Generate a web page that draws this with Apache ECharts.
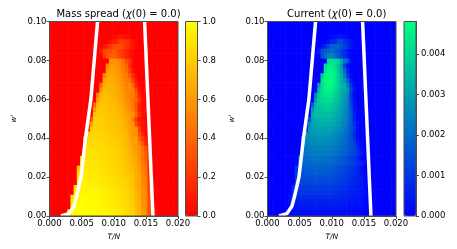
<!DOCTYPE html>
<html><head><meta charset="utf-8">
<style>html,body{margin:0;padding:0;background:#fff}#c{width:457px;height:249px;filter:blur(0.55px)}</style>
<script src="https://cdn.jsdelivr.net/npm/echarts@6/dist/echarts.min.js"></script>
</head><body><div id="c"></div>
<script>
// cell spacing of the parameter scan
const xStep = 0.0005, yStep = 0.0025;
// mass spread per scan row, percent: [first column, values]
const massRows = [
[4,[70,96,100,100,100,100,100,100,100,99,99,98,98,97,96,95,94,92,90,88,86,85,84,74,72,60,57,36,16,8]],
[6,[90,100,100,100,100,100,100,99,99,98,98,97,96,95,94,92,91,89,86,84,83,74,71,60,56,34,15,6]],
[7,[95,100,100,100,100,99,99,98,98,97,96,95,94,93,91,90,88,86,83,82,73,70,58,55,32,12]],
[7,[90,98,99,100,99,98,98,98,97,96,95,94,93,92,90,89,87,85,82,81,72,70,58,54,30,10]],
[7,[88,97,98,98,98,98,97,97,96,95,94,93,92,91,89,88,86,84,81,80,72,68,57,52,30,8]],
[8,[92,96,97,97,96,96,96,95,94,94,92,91,90,88,87,85,83,80,79,70,68,56,52,28,8]],
[8,[88,95,96,96,96,95,95,94,93,93,91,90,89,87,86,84,82,79,78,70,66,56,50,26,6]],
[9,[93,95,95,94,94,94,93,92,92,90,89,88,86,85,83,81,78,76,69,66,54,50,24,6]],
[9,[90,94,94,93,93,93,92,91,90,89,88,87,85,84,82,80,77,75,68,65,54,48,22,4]],
[9,[86,93,93,92,92,92,91,90,89,88,87,86,84,83,81,79,76,74,68,64,52,46,20,3]],
[9,[78,92,92,91,91,90,90,89,88,87,86,85,83,82,80,78,75,72,66,62,50,44,18]],
[10,[90,91,90,90,89,89,88,87,86,85,84,82,81,79,77,74,70,65,60,48,40,16]],
[10,[84,90,89,89,88,88,87,86,85,84,83,81,80,78,76,72,68,64,58,46,36,14]],
[11,[88,89,88,88,87,87,86,85,84,83,82,80,78,75,70,66,62,56,48,38,12]],
[11,[82,88,87,87,86,86,85,84,83,82,81,79,77,74,70,64,60,56,44,30,10]],
[11,[76,86,86,86,85,85,84,83,82,81,80,78,76,73,68,62,62,48,34,16,6]],
[11,[70,84,85,85,84,84,83,82,81,80,79,77,75,72,66,60,64,40,24,10]],
[12,[82,84,84,83,83,82,81,80,79,78,76,74,70,64,58,58,32,14,3]],
[13,[80,83,82,82,81,80,79,78,77,75,73,68,62,58,60,24,6,4]],
[13,[62,82,81,81,80,79,78,77,76,74,72,66,60,60,28,12,6,3]],
[13,[30,80,80,80,79,78,77,76,75,73,70,65,60,48,22,8,5]],
[14,[76,79,79,78,77,76,75,74,72,68,63,58,56,40,16,5,3]],
[14,[60,78,78,77,76,75,74,73,70,66,60,56,50,34,10,4,6,3]],
[14,[40,72,77,76,75,74,73,72,68,64,58,54,48,30,12,3]],
[15,[60,75,75,74,73,72,70,66,62,56,52,46,40,20,5]],
[15,[48,72,74,73,72,70,68,64,60,54,50,48,36,12,3]],
[16,[58,72,72,71,69,67,63,58,52,52,50,28,8]],
[16,[44,68,70,70,68,66,62,56,50,54,40,14,3]],
[17,[62,68,68,66,64,60,54,50,44,26,8]],
[17,[50,64,66,64,62,58,52,48,34,16,4]],
[18,[60,64,63,60,56,50,42,24,8]],
[18,[54,60,60,58,54,46,38,16,4]],
[19,[56,58,56,52,44,30,22,6]],
[17,[22,34,36,36,32,26,18,14,8,3]],
[16,[10,26,30,32,34,30,24,20,14,6,3]],
[17,[6,14,22,28,30,32,26,20,14,8,4]],
[19,[6,10,14,24,24,18,12,8,4]],
[20,[4,6,10,8,6,3]]
];
// current per scan row, units of 1e-5: [first column, values]
const currentRows = [
[4,[4,7,9,11,13,14,15,16,16,17,17,18,18,18,18,18,18,17,17,17,16,16,15,14,13,12,11,8,5,2]],
[6,[14,20,22,24,26,27,28,28,28,28,28,28,27,27,26,26,25,24,23,22,20,19,17,15,10,4,2]],
[7,[30,36,40,42,44,44,46,46,46,46,46,44,44,42,42,40,38,36,32,30,28,26,22,16,8,3]],
[7,[36,48,52,56,60,60,62,62,62,62,62,60,60,58,56,54,52,48,44,40,38,34,28,20,10,3]],
[7,[40,58,68,72,76,78,78,80,80,80,78,78,76,74,72,70,66,60,54,50,46,40,32,22,10,3]],
[8,[70,84,90,94,96,98,98,98,98,96,96,94,90,88,84,80,72,66,60,54,46,36,24,10,3]],
[8,[82,98,106,110,114,116,116,116,114,114,112,110,108,104,100,94,86,76,68,60,50,38,24,8]],
[9,[108,122,126,130,132,134,134,134,132,130,128,124,120,116,108,98,88,80,70,58,44,26,6]],
[9,[112,134,142,146,150,152,154,152,152,150,146,142,138,132,122,110,98,88,74,62,46,20,4]],
[9,[110,148,156,162,166,168,170,170,168,166,162,158,152,144,134,120,110,96,82,66,40,14,3]],
[9,[104,158,172,178,182,184,186,186,184,180,176,170,164,156,144,130,118,104,88,66,30,8]],
[10,[178,186,192,196,198,202,204,202,200,196,192,186,180,170,156,140,128,110,90,62,24,6]],
[10,[182,200,206,210,214,216,216,214,212,206,200,192,180,166,150,136,118,94,60,20]],
[11,[212,218,222,226,230,232,232,230,226,220,212,204,192,176,158,142,124,96,44,14]],
[11,[214,230,236,240,244,246,248,246,242,234,226,216,204,186,168,148,130,86,30,6]],
[11,[216,244,250,254,258,262,264,262,256,250,240,230,214,196,176,150,120,60,16]],
[11,[212,256,262,268,272,276,278,276,270,264,252,240,224,204,180,150,100,36]],
[12,[270,278,284,288,292,294,292,286,278,266,252,234,212,184,146,80,20]],
[13,[276,294,300,306,310,310,306,298,288,274,256,232,200,164,110,30]],
[13,[250,306,314,320,326,328,324,316,306,290,270,240,206,160,90,24]],
[13,[140,314,326,334,342,346,342,334,322,306,282,250,212,164,60,16]],
[14,[330,344,352,358,362,360,350,336,318,292,258,220,160,60,14]],
[14,[280,356,366,374,380,380,370,352,330,302,266,226,154,50,20]],
[14,[180,350,380,390,398,398,388,366,342,310,276,230,130,40,8]],
[15,[300,390,406,416,420,408,384,356,322,284,240,110,30]],
[15,[260,390,420,434,440,430,400,368,330,290,250,96,16]],
[16,[360,430,450,460,452,420,380,340,320,280,130,40]],
[16,[300,430,462,472,468,436,390,346,340,240,90,12]],
[17,[420,470,480,476,446,398,340,280,170,50]],
[17,[380,462,476,470,448,396,330,240,110,20]],
[18,[440,470,462,440,386,310,200,70]],
[18,[410,456,456,426,370,290,130,30]],
[19,[420,434,420,390,320,220,150,30]],
[17,[150,210,240,240,210,170,120,90,40,10]],
[16,[50,150,180,200,210,180,150,120,80,30,10]],
[17,[30,80,130,170,180,190,150,120,80,40,16]],
[19,[30,60,80,140,140,100,70,40,16]],
[20,[16,30,50,40,30,12]]
];
// white boundary curves
const leftCurveX = [0.0018,0.0030,0.0038,0.0042,0.0049,0.0056,0.00644,0.00696,0.00748];
const leftCurveY = [0,0.0012,0.005,0.01,0.02,0.04,0.06,0.08,0.1];
const rightCurveX = [0.0161,0.0148];
const rightCurveY = [0,0.1];
const massTicks = [0,0.2,0.4,0.6,0.8,1.0];
const currentTicks = [0,0.001,0.002,0.003,0.004];
const massMax = 1.0, currentMax = 0.00481;

const nCols = 41, nRows = 41;
function cells(rows, scale){
  const out = [];
  for (let r = 0; r < nRows; r++){
    const row = rows[r] || [0,[]];
    for (let c = 0; c < nCols; c++){
      const v = row[1][c - row[0]] || 0;
      out.push([c * xStep, r * yStep, v * scale]);
    }
  }
  return out;
}
function renderCell(params, api){
  const x = api.value(0), y = api.value(1);
  const p0 = api.coord([x - xStep/2, y + yStep/2]);
  const p1 = api.coord([x + xStep/2, y - yStep/2]);
  const rect = echarts.graphic.clipRectByRect(
    {x:p0[0], y:p0[1], width:p1[0]-p0[0]+0.6, height:p1[1]-p0[1]+0.6},
    {x:params.coordSys.x, y:params.coordSys.y, width:params.coordSys.width, height:params.coordSys.height});
  return rect && {type:'rect', shape:rect, style:{fill:api.visual('color')}};
}
const FONT = 'DejaVu Sans', SP = '#4d4d4d', INK = '#000', TICK = 8.5;
const plots = [{left:49.5,w:128.5,cb:185.5},{left:267.5,w:128.5,cb:404}];
const plotTop = 21.5, plotH = 194.5, cbW = 12;
const grids = [], xAxes = [], yAxes = [];
plots.forEach((p,i)=>{
  grids.push({left:p.left, top:plotTop, width:p.w, height:plotH, show:true, z:10, backgroundColor:'transparent', borderColor:SP, borderWidth:1});
  xAxes.push({type:'value', gridIndex:i, min:0, max:0.02, interval:0.005, splitLine:{show:false}, z:11,
    axisLine:{onZero:false,lineStyle:{color:SP}}, axisTick:{length:3,lineStyle:{color:SP}},
    axisLabel:{color:INK,fontFamily:FONT,fontSize:TICK,margin:3,formatter:v=>v.toFixed(3),hideOverlap:false,showMinLabel:true,showMaxLabel:true},
    name:'T/N', nameLocation:'middle', nameGap:15, nameTextStyle:{color:INK,fontFamily:FONT,fontSize:7.5,fontStyle:'italic'}});
  yAxes.push({type:'value', gridIndex:i, min:0, max:0.1, interval:0.02, splitLine:{show:false}, z:11,
    axisLine:{onZero:false,lineStyle:{color:SP}}, axisTick:{length:3,lineStyle:{color:SP}},
    axisLabel:{color:INK,fontFamily:FONT,fontSize:TICK,margin:3,formatter:v=>v.toFixed(2),showMinLabel:true,showMaxLabel:true},
    name:"w'", nameLocation:'middle', nameGap:31, nameRotate:90, nameTextStyle:{color:INK,fontFamily:FONT,fontSize:7.5,fontStyle:'italic'}});
});
plots.forEach((p,i)=>{
  const g = i + 2, isMass = i === 0, mx = isMass ? massMax : currentMax;
  const ticks = isMass ? massTicks : currentTicks;
  grids.push({left:p.cb, top:plotTop, width:cbW, height:plotH, show:true, z:10, backgroundColor:'transparent', borderColor:SP, borderWidth:1});
  xAxes.push({type:'value', gridIndex:g, min:0, max:1, show:false});
  yAxes.push({type:'value', gridIndex:g, position:'right', min:0, max:mx, splitLine:{show:false}, z:11,
    axisLine:{onZero:false,lineStyle:{color:SP}}, axisTick:{length:3,lineStyle:{color:SP},customValues:ticks},
    axisLabel:{color:INK,fontFamily:FONT,fontSize:TICK,margin:5,customValues:ticks, formatter:v=>isMass?v.toFixed(1):v.toFixed(3)}});
});
function boundary(i, xs, ys){
  return {type:'line', xAxisIndex:i, yAxisIndex:i, data:xs.map((x,k)=>[x,ys[k]]), showSymbol:false, symbol:'none',
    lineStyle:{color:'#fff',width:3.5}, z:5, silent:true, animation:false, clip:true};
}
function richTitle(a, centre){
  return {text:'{t|'+a+' (}{i|χ}{t|(0) = 0.0)}', left:centre, top:4, textAlign:'center',
    textStyle:{fontWeight:'normal',rich:{t:{fontFamily:FONT,fontSize:10,fontWeight:'normal',color:INK},i:{fontFamily:FONT,fontSize:10,fontWeight:'normal',fontStyle:'italic',color:INK}}}};
}
const chart = echarts.init(document.getElementById('c'));
chart.setOption({
  animation:false, backgroundColor:'#fff',
  title:[richTitle('Mass spread',113.5), richTitle('Current',331.7)],
  grid:grids, xAxis:xAxes, yAxis:yAxes,
  visualMap:[
    {type:'continuous', seriesIndex:0, dimension:2, min:0, max:massMax, left:plots[0].cb, top:plotTop, itemWidth:cbW, itemHeight:plotH, padding:0, calculable:false, showLabel:false, text:null, z:4,
      inRange:{color:['#ff0000','#ffff00']}},
    {type:'continuous', seriesIndex:2, dimension:2, min:0, max:currentMax, left:plots[1].cb, top:plotTop, itemWidth:cbW, itemHeight:plotH, padding:0, calculable:false, showLabel:false, text:null, z:4,
      inRange:{color:['#0000ff','#00ff80']}}
  ],
  series:[
    {type:'custom', xAxisIndex:0, yAxisIndex:0, data:cells(massRows,0.01), renderItem:renderCell, encode:{x:0,y:1}, silent:true, z:2},
    boundary(0,leftCurveX,leftCurveY),
    {type:'custom', xAxisIndex:1, yAxisIndex:1, data:cells(currentRows,0.00001), renderItem:renderCell, encode:{x:0,y:1}, silent:true, z:2},
    boundary(1,leftCurveX,leftCurveY),
    boundary(0,rightCurveX,rightCurveY),
    boundary(1,rightCurveX,rightCurveY)
  ]
});
</script></body></html>
